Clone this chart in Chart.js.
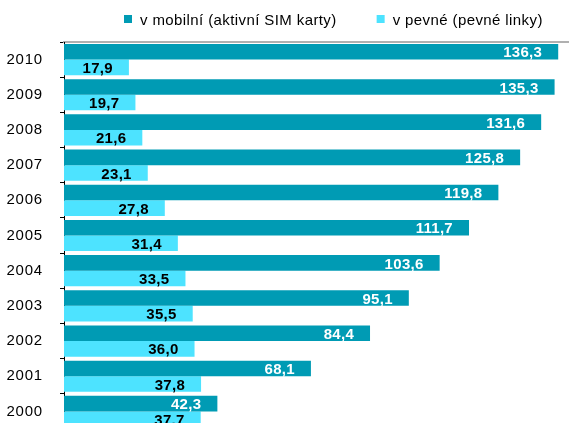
<!DOCTYPE html>
<html>
<head>
<meta charset="utf-8">
<script src="https://cdn.jsdelivr.net/npm/chart.js@4"></script>
<style>
html,body{margin:0;padding:0;background:#fff;overflow:hidden;}
</style>
</head>
<body>
<canvas id="c" width="569" height="429"></canvas>
<script>
const years = ['2010','2009','2008','2007','2006','2005','2004','2003','2002','2001','2000'];
const mobile = [136.3,135.3,131.6,125.8,119.8,111.7,103.6,95.1,84.4,68.1,42.3];
const fixed = [17.9,19.7,21.6,23.1,27.8,31.4,33.5,35.5,36.0,37.8,37.7];
const seriesNames = ['v mobilní (aktivní SIM karty)','v pevné (pevné linky)'];
const colors = ['#009bb4','#4de3ff'];
const labelColors = ['#ffffff','#000000'];
const FONT = "'Liberation Sans', Arial, sans-serif";

const spacing = {
  id:'spacing',
  beforeDraw(chart){ chart.ctx.letterSpacing = '0.8px'; }
};

const valueLabels = {
  id:'valueLabels',
  afterDatasetsDraw(chart){
    const ctx = chart.ctx;
    ctx.save();
    ctx.letterSpacing = '0.3px';
    ctx.font = "bold 15px " + FONT;
    ctx.textAlign = 'right';
    ctx.textBaseline = 'middle';
    chart.data.datasets.forEach((ds,di)=>{
      const meta = chart.getDatasetMeta(di);
      ctx.fillStyle = labelColors[di];
      meta.data.forEach((bar,i)=>{
        const txt = ds.data[i].toFixed(1).replace('.',',');
        ctx.fillText(txt, bar.x - 16, bar.y + 1.5);
      });
    });
    ctx.restore();
  }
};

const customLegend = {
  id:'customLegend',
  afterDraw(chart){
    const ctx = chart.ctx;
    ctx.save();
    ctx.font = "15px " + FONT;
    ctx.letterSpacing = '0.4px';
    ctx.textAlign = 'left';
    ctx.textBaseline = 'alphabetic';
    let x = 124;
    chart.data.datasets.forEach((ds,di)=>{
      ctx.fillStyle = colors[di];
      ctx.fillRect(x, 15, 8, 8);
      ctx.fillStyle = '#000';
      ctx.fillText(ds.label, x + 16, 25);
      x += 16 + ctx.measureText(ds.label).width + 40;
    });
    ctx.restore();
  }
};

new Chart(document.getElementById('c'), {
  type:'bar',
  data:{
    labels: years,
    datasets:[
      {label:seriesNames[0], data:mobile, backgroundColor:colors[0], categoryPercentage:0.886, barPercentage:1},
      {label:seriesNames[1], data:fixed, backgroundColor:colors[1], categoryPercentage:0.886, barPercentage:1}
    ]
  },
  options:{
    indexAxis:'y',
    responsive:false,
    animation:false,
    layout:{padding:{left:0,right:1,top:40,bottom:0}},
    plugins:{
      legend:{display:false},
      tooltip:{enabled:false}
    },
    scales:{
      x:{
        position:'top',
        min:0,max:139,
        ticks:{display:false},
        grid:{display:false},
        border:{display:true,color:'#b0b0b0',width:2},
        afterFit(s){ s.height = 2; s.paddingLeft = 0; s.paddingRight = 0; }
      },
      y:{
        ticks:{color:'#000',padding:17,font:{family:FONT,size:15}},
        grid:{drawOnChartArea:false,tickLength:4,color:'#000',offset:true},
        border:{display:true,color:'#000',width:1},
        afterFit(s){ s.width = 64; s.paddingTop = 0; s.paddingBottom = 0; }
      }
    }
  },
  plugins:[spacing, valueLabels, customLegend]
});
</script>
</body>
</html>
